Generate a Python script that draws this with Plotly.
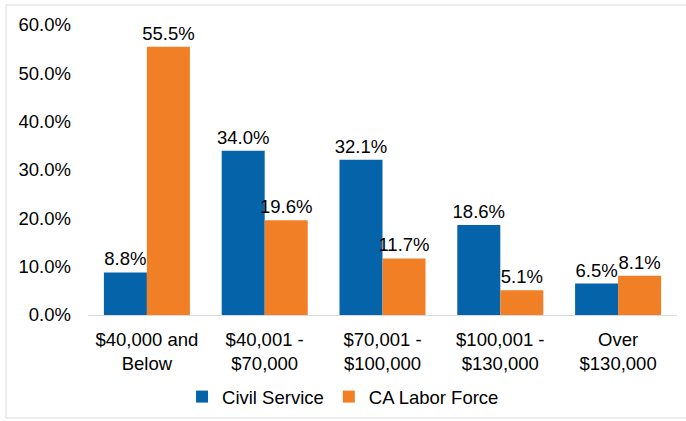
import plotly.graph_objects as go

categories = ["$40,000 and<br>Below", "$40,001 -<br>$70,000", "$70,001 -<br>$100,000",
              "$100,001 -<br>$130,000", "Over<br>$130,000"]
civil_service = [8.8, 34.0, 32.1, 18.6, 6.5]
ca_labor_force = [55.5, 19.6, 11.7, 5.1, 8.1]
y_ticks = [0, 10, 20, 30, 40, 50, 60]
y_tick_labels = ["0.0%", "10.0%", "20.0%", "30.0%", "40.0%", "50.0%", "60.0%"]

FONT = "Liberation Sans, Arial, sans-serif"
FS = 18.5

fig = go.Figure()
fig.add_trace(go.Bar(name="Civil Service", x=categories, y=civil_service,
                     marker=dict(color="#0563AA", line=dict(width=0)),
                     texttemplate="%{y:.1f}%", textposition="outside",
                     constraintext="none",
                     textfont=dict(size=FS, color="#000000", family=FONT),
                     cliponaxis=False))
fig.add_trace(go.Bar(name="CA Labor Force", x=categories, y=ca_labor_force,
                     marker=dict(color="#F07F26", line=dict(width=0)),
                     texttemplate="%{y:.1f}%", textposition="outside",
                     constraintext="none",
                     textfont=dict(size=FS, color="#000000", family=FONT),
                     cliponaxis=False))

fig.update_layout(
    width=686, height=421,
    margin=dict(l=88, r=9, t=25, b=106, autoexpand=False),
    paper_bgcolor="white", plot_bgcolor="white",
    font=dict(family=FONT, size=FS, color="#000000"),
    barmode="group", bargap=0.27, bargroupgap=0,
    showlegend=True,
    legend=dict(orientation="h", x=0.433, xanchor="center", y=-0.283, yanchor="middle",
                font=dict(size=FS), itemwidth=30, traceorder="normal"),
)
fig.update_yaxes(range=[0, 60], tickvals=y_ticks, ticktext=y_tick_labels,
                 showgrid=False, zeroline=False, showline=False, automargin=False,
                 ticks="", ticklabelstandoff=16, tickfont=dict(size=FS))
fig.update_xaxes(showline=True, linecolor="#D9D9D9", linewidth=1, ticks="",
                 showgrid=False, automargin=False,
                 ticklabelstandoff=8, tickfont=dict(size=FS))

# outer chart border
fig.add_shape(type="rect", xref="paper", yref="paper",
              x0=(6 - 88) / 589, x1=(690 - 88) / 589,
              y0=(315 - 418) / 290, y1=(315 - 5) / 290,
              line=dict(color="#D9D9D9", width=1), fillcolor="rgba(0,0,0,0)", layer="below")

fig.write_html("out.html", config={"displayModeBar": False},
               post_script="document.body.style.margin='0';document.body.style.overflow='hidden';")
